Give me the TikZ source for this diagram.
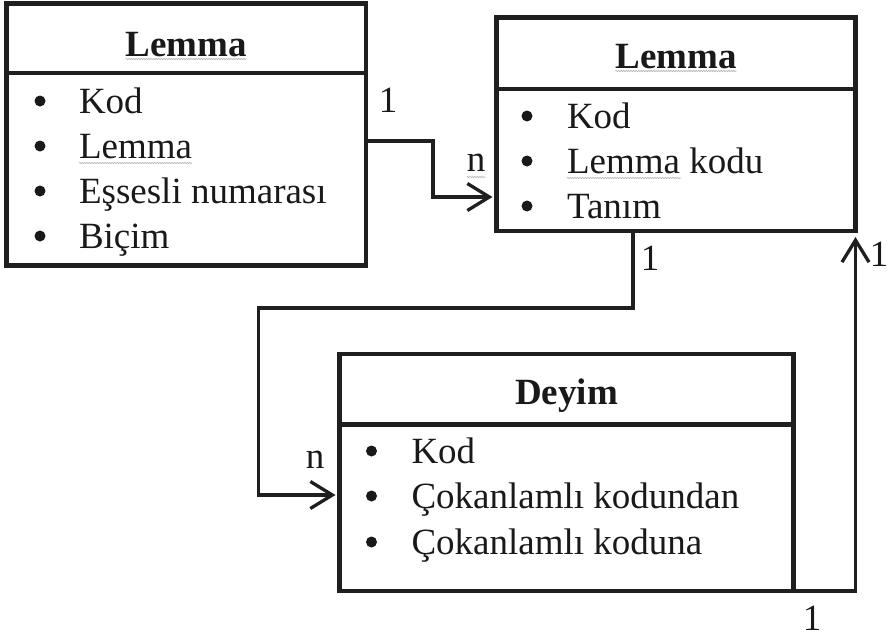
\documentclass[tikz,border=0pt]{standalone}
\usepackage{fontspec}
\setmainfont{Liberation Serif}
\usetikzlibrary{arrows.meta,decorations.pathmorphing}
\begin{document}
\begin{tikzpicture}[x=1pt,y=-1pt,
  boxpart/.style={draw=black!88, line width=4.5pt, rectangle, inner sep=0pt, outer sep=0pt, anchor=north west},
  txt/.style={font=\fontsize{37}{40}\selectfont, inner sep=0pt, outer sep=0pt, text=black!90},
  ttl/.style={txt, font=\fontsize{37}{40}\selectfont\bfseries, anchor=base},
  item/.style={txt, anchor=base west},
  bul/.style={circle, fill=black!90, draw=none, minimum size=11pt, inner sep=0pt},
  mult/.style={txt, anchor=base},
  conn/.style={draw=black!88, line width=3.3pt, line join=miter},
  tip/.style={-{Straight Barb[length=22pt,width=27pt]}},
  wavy/.style={draw=gray!55, line width=0.7pt, decorate, decoration={snake, amplitude=0.7pt, segment length=2.5pt}}]
\useasboundingbox (0,0) rectangle (889,637);

% connectors (under the boxes)
\draw[conn,tip,shorten >=2pt] (366,141) -- (433,141) -- (433,197) -- (494.5,197);
\draw[conn,tip,shorten >=2pt] (633,231) -- (633,308) -- (258.5,308) -- (258.5,495) -- (337.5,495);
\draw[conn,tip,shorten >=6pt] (793.5,591) -- (855.5,591) -- (855.5,231);

% Box 1
\node[boxpart, minimum width=359.5pt, minimum height=69.5pt] (a1) at (6.5,3.5) {};
\node[boxpart, minimum width=359.5pt, minimum height=192.5pt] (b1) at (6.5,73) {};
\node[ttl] (a1t) at (186.2,56) {Lemma};
\node[bul] (b1p1) at (40,101) {};
\node[bul] (b1p2) at (40,146) {};
\node[bul] (b1p3) at (40,191) {};
\node[bul] (b1p4) at (40,236) {};
\node[item] (b1i1) at (79,113) {Kod};
\node[item] (b1i2) at (79,158) {Lemma};
\node[item] (b1i3) at (79,203) {Eşsesli numarası};
\node[item] (b1i4) at (79,248) {Biçim};

% Box 2
\node[boxpart, minimum width=359pt, minimum height=71.5pt] (a2) at (496.5,17.5) {};
\node[boxpart, minimum width=359pt, minimum height=142pt] (b2) at (496.5,89) {};
\node[ttl] (a2t) at (676,68) {Lemma};
\node[bul] (b2p1) at (527,116) {};
\node[bul] (b2p2) at (527,161) {};
\node[bul] (b2p3) at (527,206) {};
\node[item] (b2i1) at (567,128) {Kod};
\node[item] (b2i2) at (567,173) {Lemma kodu};
\node[item] (b2i3) at (567,218) {Tanım};

% Deyim
\node[boxpart, minimum width=454pt, minimum height=70.5pt] (d1) at (339.5,354) {};
\node[boxpart, minimum width=454pt, minimum height=166.5pt] (d2) at (339.5,424.5) {};
\node[ttl] (d1t) at (566.5,404) {Deyim};
\node[bul] (d2p1) at (371.5,451) {};
\node[bul] (d2p2) at (371.5,496) {};
\node[bul] (d2p3) at (371.5,542) {};
\node[item] (d2i1) at (411.5,463) {Kod};
\node[item] (d2i2) at (411.5,508) {Çokanlamlı kodundan};
\node[item] (d2i3) at (411.5,554) {Çokanlamlı koduna};

% multiplicities
\node[mult] (m1) at (388,112) {1};
\node[mult] (m2) at (476,171) {n};
\node[mult] (m3) at (650,270) {1};
\node[mult] (m4) at (315,468) {n};
\node[mult] (m5) at (879,266) {1};
\node[mult] (m6) at (812,630) {1};

% spell-check wavy underlines
\draw[wavy] ([yshift=-3pt]a1t.base west) -- ([yshift=-3pt]a1t.base east);
\draw[wavy] ([yshift=-3pt]a2t.base west) -- ([yshift=-3pt]a2t.base east);
\draw[wavy] ([yshift=-5pt]b1i2.base west) -- ([yshift=-5pt]b1i2.base east);
\draw[wavy] (567,178) -- (681,178);
\draw[wavy] ([yshift=-6pt]m2.base west) -- ([yshift=-6pt]m2.base east);
\end{tikzpicture}
\end{document}
